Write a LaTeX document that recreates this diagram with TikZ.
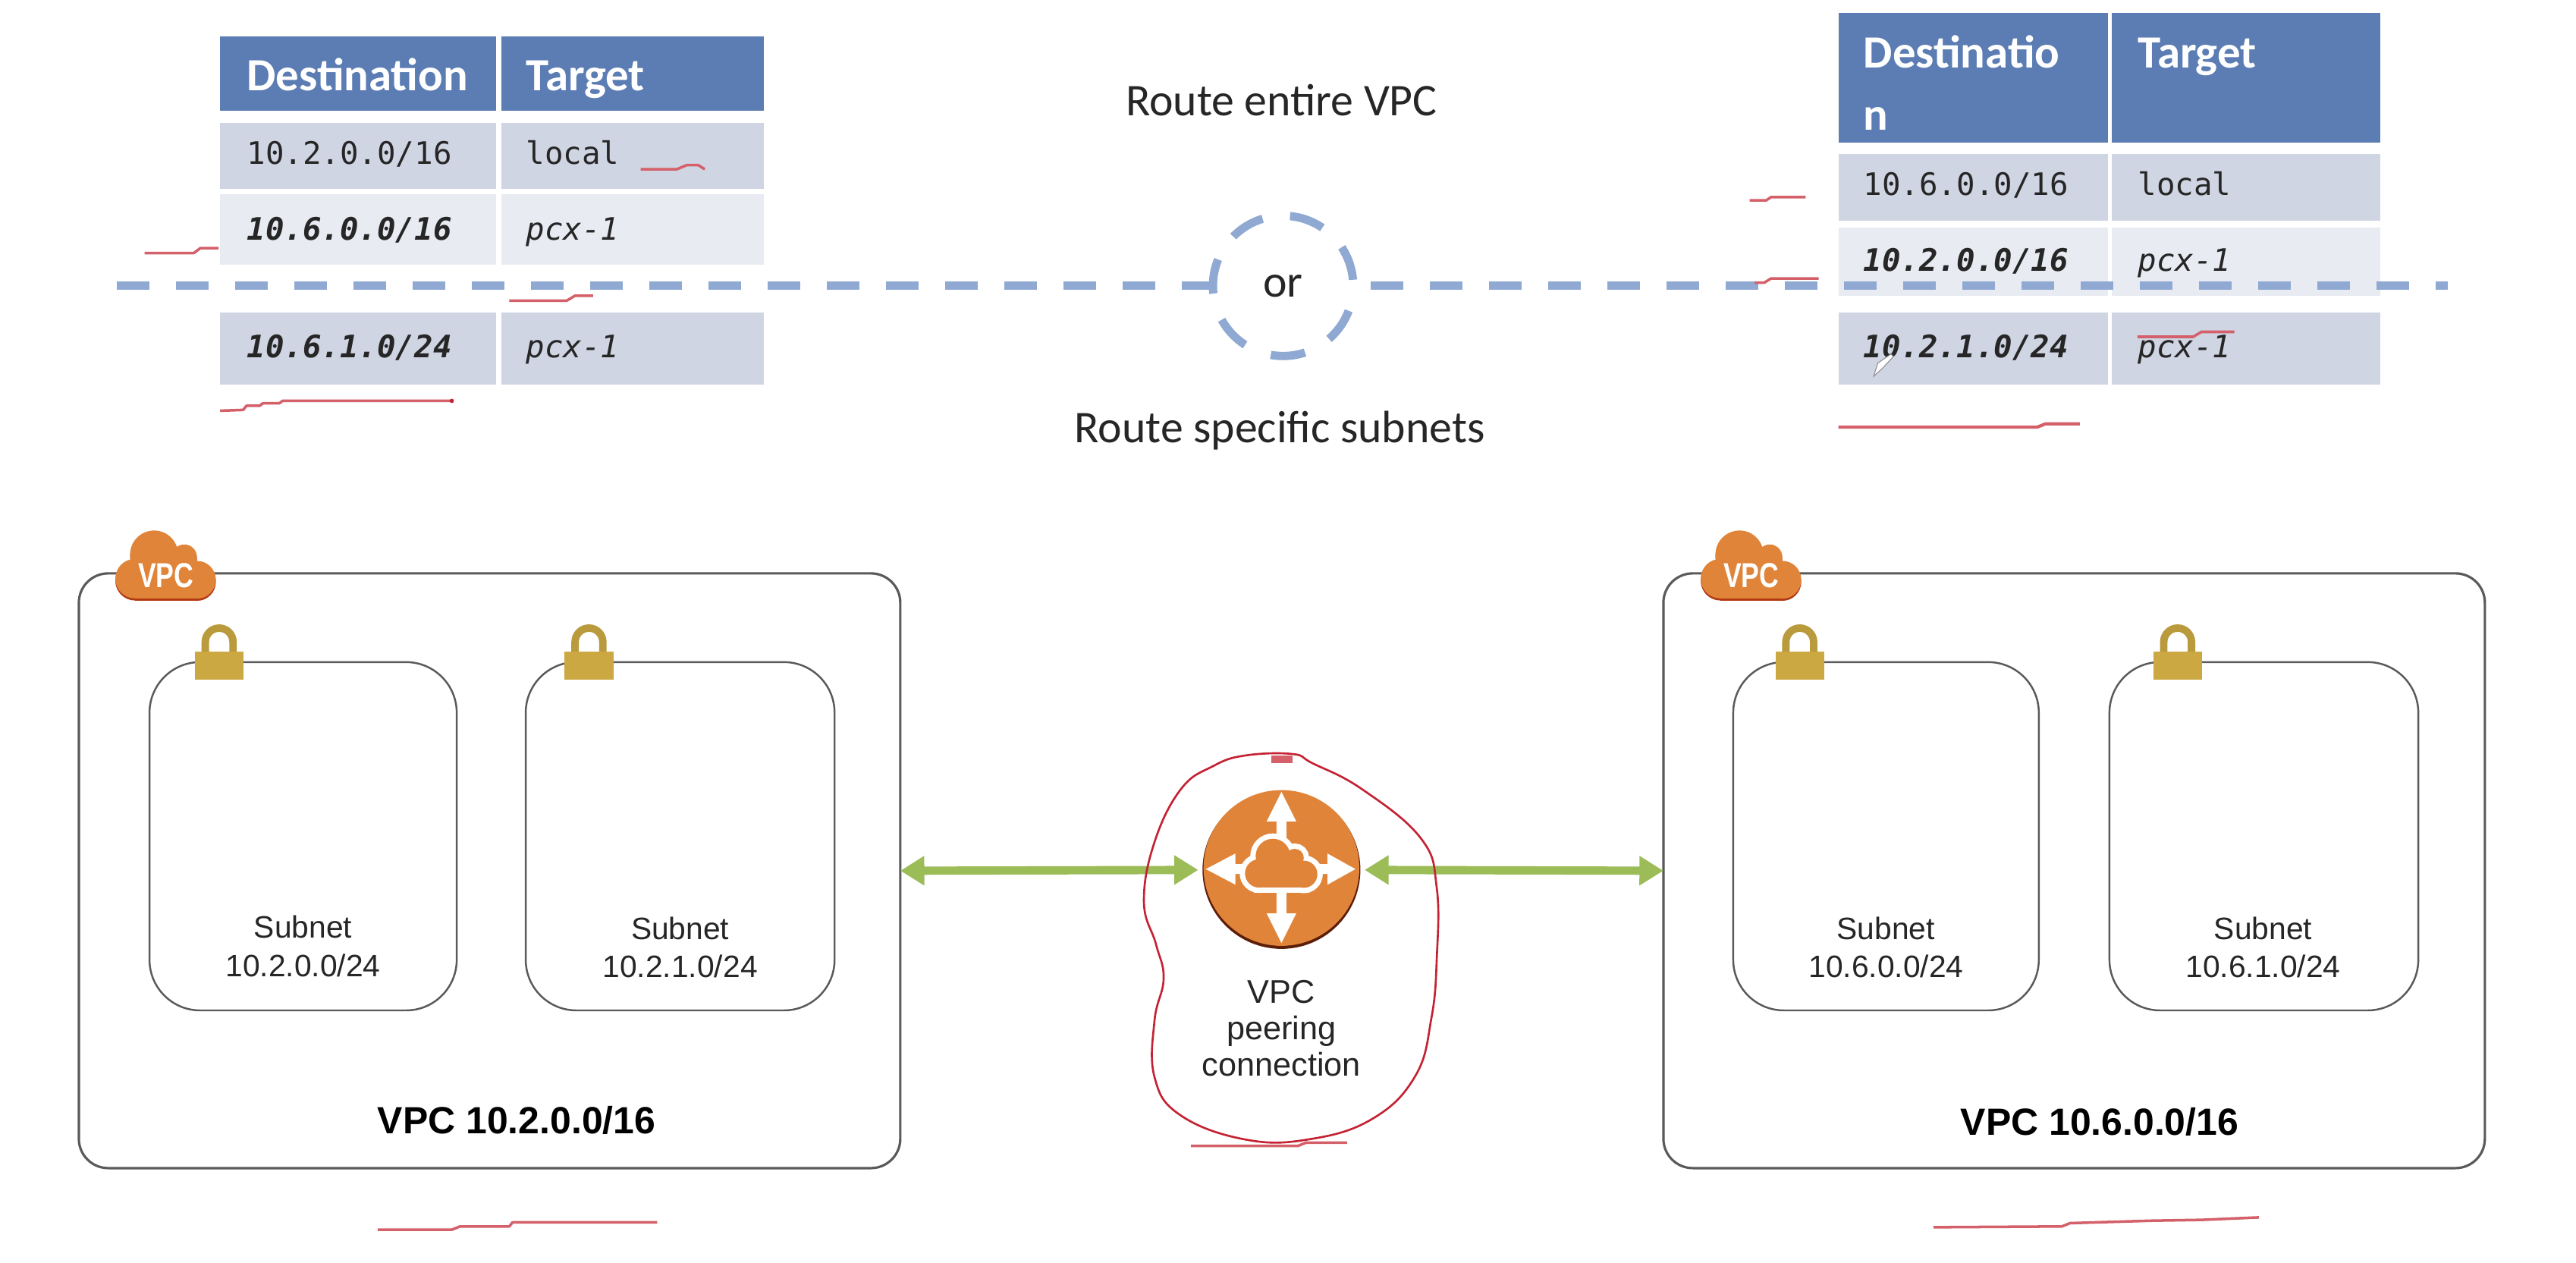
\documentclass[tikz,border=0pt]{standalone}
\usepackage{fontspec}
\setmainfont{Carlito}
\newfontfamily\monof{DejaVu Sans Mono}
\newfontfamily\arialf{Liberation Sans}
\usetikzlibrary{arrows.meta}
\definecolor{headblue}{HTML}{5B7DB3}
\definecolor{rowdark}{HTML}{D0D5E3}
\definecolor{rowlight}{HTML}{E9EBF3}
\definecolor{dashblue}{HTML}{8FA9D2}
\definecolor{awsorange}{HTML}{E0843A}
\definecolor{vpclip}{HTML}{B23A12}
\definecolor{lockgold}{HTML}{CBA842}
\definecolor{shackle}{HTML}{B99A3C}
\definecolor{peergreen}{HTML}{9CBC58}
\definecolor{boxgrey}{HTML}{5A5A5A}
\definecolor{scribble}{HTML}{D4606A}
\definecolor{loopred}{HTML}{C42232}
\def\U{0.021658cm}
\tikzset{
  tcell/.style={rectangle,draw=none,inner sep=0pt,outer sep=0pt},
  thead/.style={anchor=base west,inner sep=0pt,text=white,font=\fontsize{17.3}{20}\selectfont\bfseries},
  tmono/.style={anchor=base west,inner sep=0pt,text=black!85,font=\monof\fontsize{11.6}{14}\selectfont},
  tdest/.style={tmono,font=\monof\fontsize{11.6}{14}\selectfont\bfseries\itshape},
  tpcx/.style={tmono,font=\monof\fontsize{11.6}{14}\selectfont\itshape},
  routetxt/.style={inner sep=0pt,text=black!85,font=\fontsize{17}{20}\selectfont},
  subtxt/.style={inner sep=0pt,align=center,text=black!85,font=\arialf\fontsize{11.6}{14.3}\selectfont},
  vpctxt/.style={inner sep=0pt,text=black,font=\arialf\fontsize{14.2}{17}\selectfont\bfseries},
  vpcbox/.style={rectangle,draw=boxgrey,line width=0.9pt,rounded corners=11pt,inner sep=0pt,outer sep=0pt,
    minimum width=500*\U,minimum height=362*\U},
  subbox/.style={rectangle,draw=boxgrey,line width=0.7pt,rounded corners=19pt,inner sep=0pt},
  dashline/.style={draw=dashblue,line width=3.1pt,dash pattern=on 12.33pt off 9.86pt},
  biarrow/.style={draw=peergreen,line width=3.1pt,{Triangle[length=9pt,width=10.5pt]}-{Triangle[length=9pt,width=10.5pt]}},
  mark red/.style={draw=scribble,line width=1pt,line join=round},
}
\newcommand\tcellbox[6]{\node[tcell,fill=#6,minimum width={(#4-#2)*\U},minimum height={(#5-#3)*\U}] (#1) at ({(#2+#4)/2},{(#3+#5)/2}) {};}
\newcommand\cloudshape[1]{%
  \path[#1] (-7.2,-6.2) circle[radius=14.6];
  \path[#1] (11.2,-4.6) circle[radius=7.7];
  \path[#1] (18.9,9.2) circle[radius=11.5];
  \path[#1] (-18.8,8.5) circle[radius=12];
  \path[#1] (-18.8,-1) rectangle (18.9,20.7);
  \path[#1] (-4,-8) rectangle (11,2);
}
\tikzset{
  vpccloud/.pic={
    \cloudshape{fill=vpclip}
    \begin{scope}[shift={(0,-1.3)}]\cloudshape{fill=awsorange}\end{scope}
    \node[inner sep=0pt,text=white,font=\arialf\fontsize{13}{14}\selectfont\bfseries] (-t) at (0,5.2) {\scalebox{0.78}[1]{VPC}};
  },
  padlock/.pic={
    \draw[shackle,line width=2.8pt] (-8.45,1) -- (-8.45,-5.85) arc[start angle=180,end angle=360,radius=8.45] -- (8.45,1);
    \fill[lockgold] (-14.8,0) rectangle (14.8,17.1);
  }
}
\begin{document}
\begin{tikzpicture}[x=0.021658cm,y=-0.021658cm]
\useasboundingbox (0,0) rectangle (1568,768.3);
\fill[white] (0,0) rectangle (1568,768.3);

% left table
\tcellbox{la1}{134}{22}{302}{67.5}{headblue}
\tcellbox{la2}{305}{22}{465}{67.5}{headblue}
\tcellbox{lb1}{134}{75}{302}{115}{rowdark}
\tcellbox{lb2}{305}{75}{465}{115}{rowdark}
\tcellbox{lc1}{134}{118}{302}{161}{rowlight}
\tcellbox{lc2}{305}{118}{465}{161}{rowlight}
\tcellbox{ld1}{134}{190}{302}{234}{rowdark}
\tcellbox{ld2}{305}{190}{465}{234}{rowdark}
\node[thead] (lah1) at (150,55) {Destination};
\node[thead] (lah2) at (320,55) {Target};
\node[tmono] (lbt1) at (150,100) {10.2.0.0/16};
\node[tmono] (lbt2) at (320,100) {local};
\node[tdest] (lct1) at (150,146) {10.6.0.0/16};
\node[tpcx] (lct2) at (320,146) {pcx-1};
\node[tdest] (ldt1) at (150,217.5) {10.6.1.0/24};
\node[tpcx] (ldt2) at (320,217.5) {pcx-1};

% right table
\tcellbox{ra1}{1119}{8}{1283}{87}{headblue}
\tcellbox{ra2}{1285.5}{8}{1449}{87}{headblue}
\tcellbox{rb1}{1119}{93.5}{1283}{134.5}{rowdark}
\tcellbox{rb2}{1285.5}{93.5}{1449}{134.5}{rowdark}
\tcellbox{rc1}{1119}{138.5}{1283}{180}{rowlight}
\tcellbox{rc2}{1285.5}{138.5}{1449}{180}{rowlight}
\tcellbox{rd1}{1119}{190}{1283}{234}{rowdark}
\tcellbox{rd2}{1285.5}{190}{1449}{234}{rowdark}
\node[thead] (rah1) at (1134,41.5) {Destinatio};
\node[thead] (rah1b) at (1134,79) {n};
\node[thead] (rah2) at (1301,41.5) {Target};
\node[tmono] (rbt1) at (1134,119) {10.6.0.0/16};
\node[tmono] (rbt2) at (1301,119) {local};
\node[tdest] (rct1) at (1134,165) {10.2.0.0/16};
\node[tpcx] (rct2) at (1301,165) {pcx-1};
\node[tdest] (rdt1) at (1134,217.5) {10.2.1.0/24};
\node[tpcx] (rdt2) at (1301,217.5) {pcx-1};

% middle
\node[routetxt] (route1) at (780,61) {Route entire VPC};
\node[routetxt] (route2) at (779,262) {Route specific subnets};
\node[circle,draw=dashblue,line width=3.1pt,minimum size=52.6pt,inner sep=0pt,
  dash pattern=on 13pt off 10.4pt,dash phase=21.1pt,text=black!85,font=\fontsize{17}{20}\selectfont] (ornode) at (781,174) {or};
\coordinate (dashL) at (71,174);
\coordinate (dashR) at (1490,174);
\draw[dashline] (dashL) -- (ornode.west);
\draw[dashline,dash phase=17.26pt] (ornode.east) -- (dashR);

% VPC boxes
\node[vpcbox] (vpcL) at (298,530) {};
\node[vpcbox] (vpcR) at (1262.5,530) {};
\node[subbox,minimum width=187*\U,minimum height=212*\U] (sa) at (184.5,509) {};
\node[subbox,minimum width=188*\U,minimum height=212*\U] (sb) at (414,509) {};
\node[subbox,minimum width=186*\U,minimum height=212*\U] (sc) at (1148,509) {};
\node[subbox,minimum width=188*\U,minimum height=212*\U] (sd) at (1378,509) {};
\node[subtxt] (sat) at (184.5,576) {Subnet\\10.2.0.0/24};
\node[subtxt] (sbt) at (414,576.5) {Subnet\\10.2.1.0/24};
\node[subtxt] (sct) at (1148,576.5) {Subnet\\10.6.0.0/24};
\node[subtxt] (sdt) at (1377.5,576.5) {Subnet\\10.6.1.0/24};
\node[vpctxt] (vlt) at (314.5,682) {VPC 10.2.0.0/16};
\node[vpctxt] (vrt) at (1278,683) {VPC 10.6.0.0/16};
\pic (cloudL) at (101,345) {vpccloud};
\pic (cloudR) at (1066,345) {vpccloud};
\pic (lockA) at (133.4,396.6) {padlock};
\pic (lockB) at (358.5,396.6) {padlock};
\pic (lockC) at (1095.5,396.6) {padlock};
\pic (lockD) at (1325.5,396.6) {padlock};

% peering icon
\node[circle,fill=black!30!vpclip!75!black,minimum size=59.2pt,inner sep=0pt,outer sep=0pt] (peer) at (780,529.5) {};
\fill[awsorange] (780,528.3) circle[radius=47.4];
\fill[white] (780,482)--(789,500)--(783,500)--(783,556)--(789,556)--(780,574)--(771,556)--(777,556)--(777,500)--(771,500)--cycle;
\fill[white] (734,529)--(752,519.5)--(752,526)--(808,526)--(808,519.5)--(825,529)--(808,538.5)--(808,532)--(752,532)--(752,538.5)--cycle;
\begin{scope}[shift={(780,525.5)},scale=.72]
  \cloudshape{draw=white,fill=white,line width=4pt}
  \cloudshape{fill=awsorange}
\end{scope}
\node[inner sep=0pt,align=center,text=black!85,font=\arialf\fontsize{12.3}{13.6}\selectfont] (peertxt) at (780,626) {VPC\\peering\\connection};
\draw[biarrow,shorten >=1.6pt] (vpcL.east) -- (peer.west);
\draw[biarrow,shorten <=1.6pt] (peer.east) -- (vpcR.west);

% pen marks
\draw[mark red] (390,103)--(412,103)--(418,100.5)--(425,100.5)--(429,103);
\draw[mark red] (88,154)--(118,154)--(122,151)--(133,151);
\draw[mark red] (310,183)--(345,183)--(350,180)--(361,180);
\draw[mark red] (134,250)--(148,249.5)--(150,247)--(158,247)--(160,245.5)--(170,245.5)--(172,244)--(275,244);
\fill[loopred] (275,244) circle[radius=1.3];
\draw[mark red] (1065,122)--(1075,122)--(1078,120)--(1099,120);
\draw[mark red] (1068,172)--(1074,172)--(1078,169.5)--(1107,169.5);
\draw[mark red] (1301,205)--(1335,205)--(1340,202)--(1360,202);
\draw[mark red,line width=1.2pt] (1119,260)--(1240,260)--(1245,258)--(1266,258);
\draw[mark red] (230,748.5)--(275,748.5)--(280,746.5)--(310,746.5)--(312,744)--(400,744);
\draw[mark red] (1177,747)--(1255,746.5)--(1260,744.5)--(1310,743)--(1340,742.5)--(1375,741);
\draw[mark red] (725,697.5)--(790,697.5)--(795,695.5)--(820,695.5);
\begin{scope}[scale=0.46173]
\draw[loopred,line width=0.75pt] plot[smooth cycle,tension=0.7] coordinates {
 (1704,994)(1641,996)(1599,1010)(1557,1040)(1522,1110)(1508,1189)(1524,1245)(1534,1290)
 (1522,1345)(1522,1420)(1556,1470)(1641,1502)(1725,1502)(1809,1475)(1866,1418)(1887,1342)
 (1894,1265)(1894,1170)(1873,1105)(1795,1040)(1730,1006)};
\fill[scribble] (1676,996) rectangle (1704,1006);
\end{scope}
% pen cursor
\filldraw[fill=white,draw=black!45,line width=0.3pt] (1140.5,229)--(1143,221)--(1151,215.5)--(1152.5,217)--(1146,224)--cycle;
\end{tikzpicture}
\end{document}
